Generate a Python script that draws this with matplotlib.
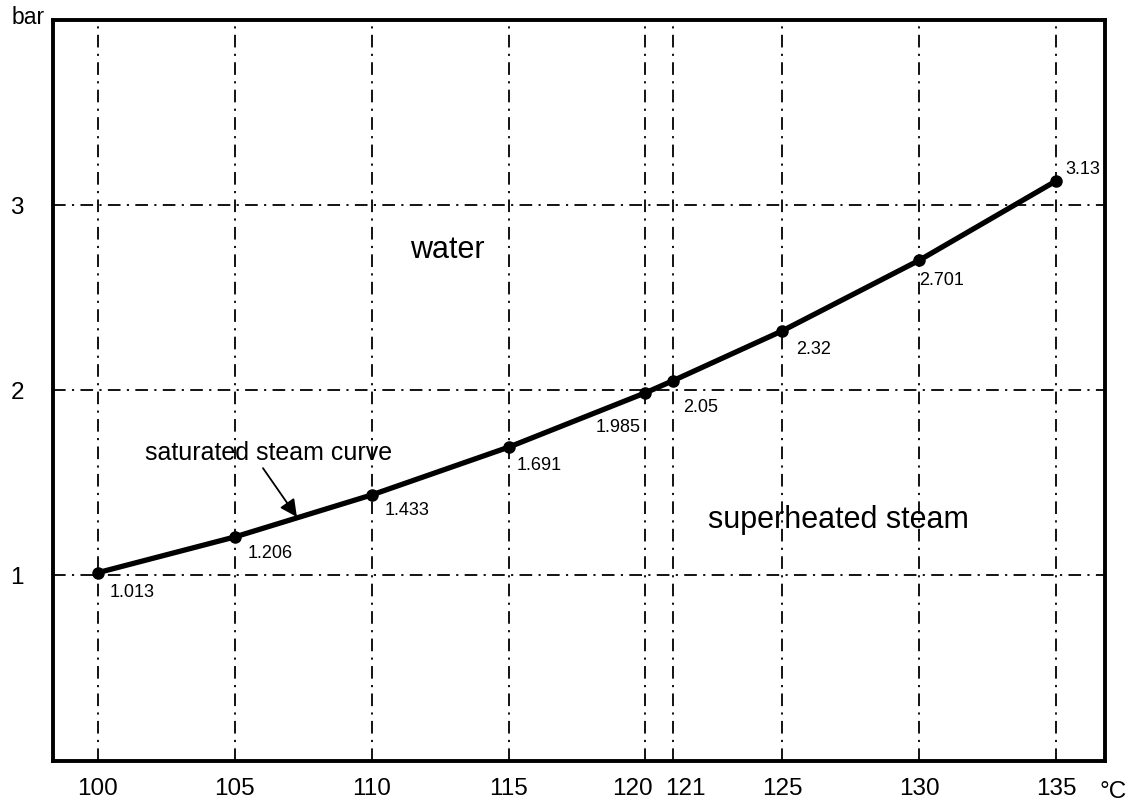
import matplotlib
matplotlib.use("Agg")
import matplotlib.pyplot as plt
from matplotlib.transforms import ScaledTranslation

plt.rcParams["font.family"] = ["Liberation Sans", "DejaVu Sans"]

# saturated steam: temperature (°C) vs pressure (bar)
temps = [100, 105, 110, 115, 120, 121, 125, 130, 135]
pressures = [1.013, 1.206, 1.433, 1.691, 1.985, 2.05, 2.32, 2.701, 3.13]
x_grid = [100, 105, 110, 115, 120, 121, 125, 130, 135]
y_grid = [1, 2, 3]

# label offsets (points) and alignment for each data value
label_offsets = [(8.6, -14), (9.4, -12.2), (9.4, -11), (5.8, -13), (-3.6, -25),
                 (7.2, -19.4), (10, -13.7), (0, -14.4), (6.5, 8.6)]
label_ha = ["left", "left", "left", "left", "right", "left", "left", "left", "left"]

fig = plt.figure(figsize=(11.3, 8.06), dpi=100)
ax = fig.add_axes([0.0469, 0.0558, 0.9310, 0.9194])

dash = (0, (7, 3.5, 1.2, 3.5))
for xv in x_grid:
    ax.axvline(xv, color="black", lw=1.3, linestyle=dash, zorder=1)
for yv in y_grid:
    ax.axhline(yv, color="black", lw=1.3, linestyle=dash, zorder=1)

ax.plot(temps, pressures, color="black", lw=3.8, marker="o", markersize=8, zorder=3)

for t, p, off, ha in zip(temps, pressures, label_offsets, label_ha):
    ax.annotate(str(p), (t, p), xytext=off, textcoords="offset points",
                ha=ha, va="center", fontsize=13, zorder=4)

ax.text(112.76, 2.757, "water", fontsize=22, ha="center", va="center")
ax.text(122.29, 1.297, "superheated steam", fontsize=22, ha="left", va="center")
ax.text(106.22, 1.659, "saturated steam curve", fontsize=18, ha="center", va="center")
ax.annotate("", xy=(107.27, 1.314), xytext=(106.03, 1.578),
            arrowprops=dict(arrowstyle="-|>", lw=1.3, color="black",
                            mutation_scale=26, shrinkA=0, shrinkB=0))

ax.set_xlim(98.36, 136.79)
ax.set_ylim(-0.005, 4.0)
ax.set_xticks(x_grid)
ax.set_yticks(y_grid)
ax.tick_params(axis="x", length=0, pad=12, labelsize=17.5)
ax.tick_params(axis="y", length=0, pad=21, labelsize=17.5)

for spine in ax.spines.values():
    spine.set_linewidth(2.8)

# 120 and 121 labels pushed apart so they do not overlap
labels = ax.get_xticklabels()
for lab, dx in ((labels[4], -13), (labels[5], 13)):
    lab.set_transform(lab.get_transform() + ScaledTranslation(dx / 100, 0, fig.dpi_scale_trans))

fig.text(45 / 1130, 1 - 18 / 806, "bar", fontsize=16.5, ha="right", va="center")
fig.text(1113 / 1130, 1 - 792 / 806, "°C", fontsize=17.5, ha="center", va="center")

fig.savefig("out.png", dpi=100)
